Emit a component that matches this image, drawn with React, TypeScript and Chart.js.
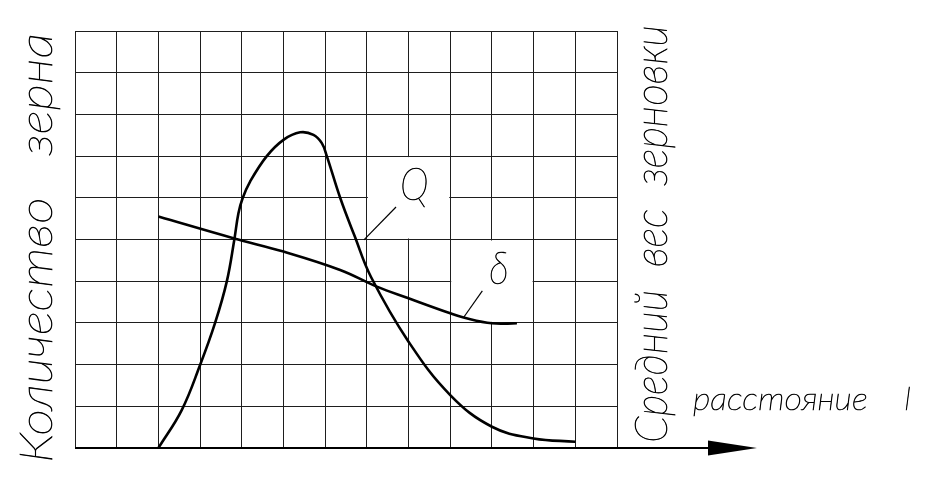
import React, { useEffect, useRef } from "react";
import { Chart, registerables } from "chart.js";

Chart.register(...registerables);

// grid extent (cells)
const xCells = 13;
const yCells = 10;

// curve Q: количество зерна
const qX = [2.0, 2.56, 3.0, 3.36, 3.64, 3.82, 3.92, 4.02, 4.2, 4.6, 5.0, 5.4, 5.72, 5.92, 6.04, 6.36, 6.7, 7.1, 8.0, 9.0, 10.0, 11.0, 12.0];
const qY = [0, 0.91, 1.99, 3.0, 3.99, 4.99, 5.63, 5.99, 6.39, 7.0, 7.39, 7.57, 7.51, 7.31, 7.0, 6.0, 5.1, 4.1, 2.55, 1.27, 0.51, 0.23, 0.15];

// curve δ: средний вес зерновки
const dX = [2.0, 3.8, 5.0, 6.36, 7.24, 8.0, 9.0, 9.32, 10.0, 10.6];
const dY = [5.55, 5.03, 4.71, 4.27, 3.87, 3.59, 3.23, 3.13, 2.99, 2.99];

// label boxes [xMin, xMax, yMin, yMax] and leader lines
const qBox = [7, 9, 5, 7];
const dBox = [9, 11, 3, 5];
const qLeaderX = [6.93, 7.7];
const qLeaderY = [4.99, 5.78];
const dLeaderX = [9.32, 9.77];
const dLeaderY = [3.13, 3.77];
const qLabelAt = [8.14, 6.31];
const dLabelAt = [10.17, 4.29];

const qName = "Q";
const dName = "δ";
const leftTitle = "Количество   зерна";
const rightTitle = "Средний  вес  зерновки";
const xTitle = "расстояние    l";

const candidates: [string, number][] = [
  ['"Roboto"', 100],
  ['"Lato"', 100],
  ['"Inter"', 100],
  ['"Noto Sans"', 100],
  ['"Open Sans"', 300],
  ['"DejaVu Sans"', 200],
];

function pickThinFont(): string {
  let best = 'italic 200 {s}px "DejaVu Sans", sans-serif';
  let bestInk = Infinity;
  const c = document.createElement("canvas");
  c.width = 400;
  c.height = 140;
  const g = c.getContext("2d");
  if (!g) return best;
  for (const [fam, w] of candidates) {
    g.clearRect(0, 0, 400, 140);
    g.font = `${w} 100px ${fam}, sans-serif`;
    g.fillStyle = "#000";
    g.textBaseline = "alphabetic";
    const text = "lllII";
    const width = g.measureText(text).width;
    g.fillText(text, 5, 110);
    const d = g.getImageData(0, 0, 400, 140).data;
    let ink = 0;
    for (let i = 3; i < d.length; i += 4) ink += d[i];
    if (ink < bestInk && width > 0) {
      bestInk = ink;
      best = `italic ${w} {s}px ${fam}, sans-serif`;
    }
  }
  return best;
}

let FONT_TEMPLATE = 'italic 200 {s}px "DejaVu Sans", sans-serif';
const font = (s: number) => FONT_TEMPLATE.replace("{s}", String(s));

function inkText(ctx: CanvasRenderingContext2D, text: string, x: number, y: number) {
  ctx.fillText(text, x, y);
  ctx.strokeText(text, x, y);
}

function fitText(ctx: CanvasRenderingContext2D, text: string, x: number, y: number, length: number, size: number, vertical: boolean) {
  ctx.save();
  ctx.font = font(size);
  ctx.fillStyle = "#000";
  ctx.strokeStyle = "#000";
  ctx.lineWidth = 0.7;
  ctx.textBaseline = "alphabetic";
  ctx.textAlign = "left";
  const w = ctx.measureText(text).width;
  ctx.translate(x, y);
  if (vertical) ctx.rotate(-Math.PI / 2);
  ctx.scale(length / w, 1);
  inkText(ctx, text, 0, 0);
  ctx.restore();
}

const drawingPlugin = {
  id: "drawing",
  beforeDatasetsDraw(chart: any) {
    const { ctx, scales } = chart;
    const xs = scales.x, ys = scales.y;
    ctx.save();
    ctx.fillStyle = "#fff";
    for (const b of [qBox, dBox]) {
      const l = xs.getPixelForValue(b[0]) + 1;
      const r = xs.getPixelForValue(b[1]) - 1;
      const t = ys.getPixelForValue(b[3]) + 1;
      const btm = ys.getPixelForValue(b[2]) - 1;
      ctx.fillRect(l, t, r - l, btm - t);
    }
    // x axis with arrow
    const y0 = Math.round(ys.getPixelForValue(0));
    const xStart = xs.getPixelForValue(0);
    const xEnd = xs.getPixelForValue(xCells) + 140;
    ctx.strokeStyle = "#000";
    ctx.lineWidth = 2;
    ctx.beginPath();
    ctx.moveTo(xStart, y0);
    ctx.lineTo(xEnd - 10, y0);
    ctx.stroke();
    ctx.fillStyle = "#000";
    ctx.beginPath();
    ctx.moveTo(xEnd, y0);
    ctx.lineTo(xEnd - 49, y0 - 7.5);
    ctx.lineTo(xEnd - 49, y0 + 7.5);
    ctx.closePath();
    ctx.fill();
    ctx.restore();
  },
  afterDatasetsDraw(chart: any) {
    const { ctx, scales } = chart;
    const xs = scales.x, ys = scales.y;
    ctx.save();
    ctx.strokeStyle = "#000";
    ctx.lineWidth = 1.2;
    for (const [lx, ly] of [[qLeaderX, qLeaderY], [dLeaderX, dLeaderY]]) {
      ctx.beginPath();
      ctx.moveTo(xs.getPixelForValue(lx[0]), ys.getPixelForValue(ly[0]));
      ctx.lineTo(xs.getPixelForValue(lx[1]), ys.getPixelForValue(ly[1]));
      ctx.stroke();
    }
    ctx.font = font(46);
    ctx.fillStyle = "#000";
    ctx.lineWidth = 0.7;
    ctx.textAlign = "center";
    ctx.textBaseline = "middle";
    for (const [t, at] of [[qName, qLabelAt], [dName, dLabelAt]] as [string, number[]][]) {
      const px = xs.getPixelForValue(at[0]);
      const py = ys.getPixelForValue(at[1]);
      ctx.save();
      ctx.translate(px, py);
      ctx.scale(0.85, 1);
      inkText(ctx, t, 0, 0);
      ctx.restore();
    }
    ctx.restore();

    const left = xs.getPixelForValue(0);
    const right = xs.getPixelForValue(xCells);
    const bottom = ys.getPixelForValue(0);
    fitText(ctx, leftTitle, left - 23, bottom + 15, 430, 47, true);
    fitText(ctx, rightTitle, right + 50, bottom - 5, 418, 47, true);
    fitText(ctx, xTitle, right + 76, bottom - 38, 218, 32, false);
  },
};

export default function App() {
  const ref = useRef<HTMLCanvasElement | null>(null);
  useEffect(() => {
    if (!ref.current) return;
    FONT_TEMPLATE = pickThinFont();
    const gridColor = "#1e1e1e";
    const chart = new Chart(ref.current, {
      type: "scatter",
      data: {
        datasets: [
          {
            label: qName,
            data: qX.map((x, i) => ({ x, y: qY[i] })),
            showLine: true,
            borderColor: "#000",
            borderWidth: 2.6,
            pointRadius: 0,
            tension: 0.4,
          },
          {
            label: dName,
            data: dX.map((x, i) => ({ x, y: dY[i] })),
            showLine: true,
            borderColor: "#000",
            borderWidth: 2.6,
            pointRadius: 0,
            tension: 0.4,
          },
        ],
      },
      options: {
        responsive: false,
        animation: false,
        layout: { padding: { left: 75, right: 312, top: 31, bottom: 29 } },
        plugins: { legend: { display: false }, tooltip: { enabled: false } },
        scales: {
          x: {
            type: "linear",
            min: 0,
            max: xCells,
            ticks: { display: false, stepSize: 1 },
            grid: { color: gridColor, drawTicks: false, lineWidth: 1 },
            border: { display: false },
            afterFit: (s: any) => { s.height = 0; },
          },
          y: {
            type: "linear",
            min: 0,
            max: yCells,
            ticks: { display: false, stepSize: 1 },
            grid: { color: gridColor, drawTicks: false, lineWidth: 1 },
            border: { display: false },
            afterFit: (s: any) => { s.width = 0; },
          },
        },
      },
      plugins: [drawingPlugin],
    });
    return () => chart.destroy();
  }, []);
  return (
    <canvas
      ref={ref}
      width={929}
      height={477}
      style={{ position: "fixed", left: 0, top: 0, display: "block", background: "#fff" }}
    />
  );
}
